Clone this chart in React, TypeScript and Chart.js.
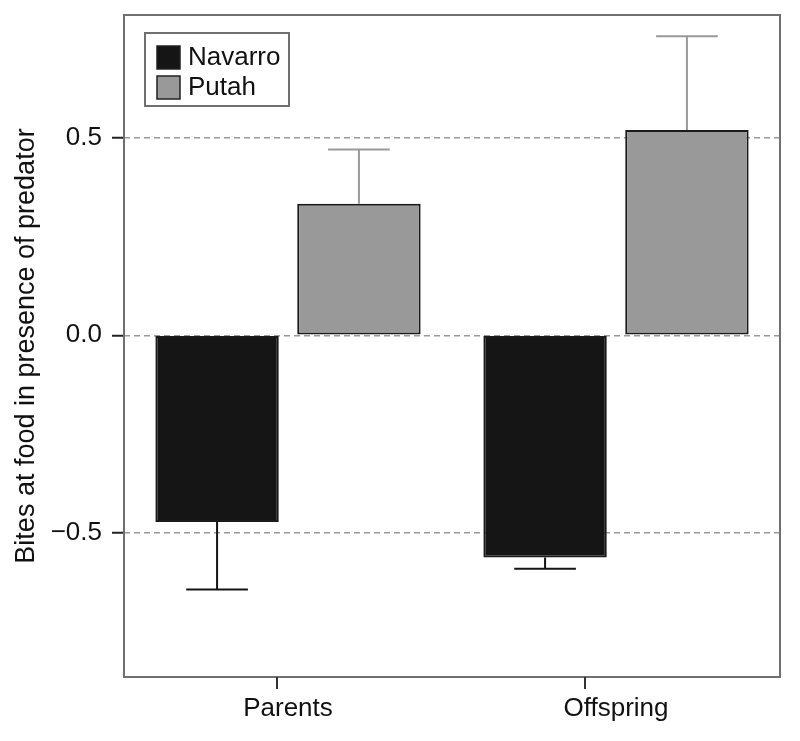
import React, { useEffect, useRef } from 'react';
import { Chart, registerables } from 'chart.js';

Chart.register(...registerables);

const categories = ['Parents', 'Offspring'];
const seriesNames = ['Navarro', 'Putah'];
const navarroMeans = [-0.472, -0.562];
const navarroErrors = [0.171, 0.028];
const putahMeans = [0.333, 0.519];
const putahErrors = [0.137, 0.237];
const seriesFill = ['#151515', '#999999'];
const whiskerColors = ['#151515', '#999999'];
const yTickValues = [-0.5, 0, 0.5];
const yMin = -0.864;
const yMax = 0.81;
// x-axis tick marks (category units), as drawn in the original figure
const xTickPositions = [-0.034, 0.905];
const yTitle = 'Bites at food in presence of predator';

const FONT = '"Liberation Sans", Arial, Helvetica, sans-serif';

const decorPlugin = {
  id: 'decor',
  afterDatasetsDraw(chart: any) {
    const ctx = chart.ctx;
    const area = chart.chartArea;
    const yScale = chart.scales.y;
    const xScale = chart.scales.x;
    const errs = [navarroErrors, putahErrors];
    ctx.save();
    // error bars
    chart.data.datasets.forEach((ds: any, i: number) => {
      const meta = chart.getDatasetMeta(i);
      meta.data.forEach((el: any, j: number) => {
        const v = ds.data[j];
        const e = errs[i][j];
        const end = v + Math.sign(v) * e;
        const yEnd = yScale.getPixelForValue(end);
        const half = el.width / 4;
        ctx.strokeStyle = whiskerColors[i];
        ctx.lineWidth = 2;
        ctx.beginPath();
        ctx.moveTo(el.x, el.y);
        ctx.lineTo(el.x, yEnd);
        ctx.moveTo(el.x - half, yEnd);
        ctx.lineTo(el.x + half, yEnd);
        ctx.stroke();
      });
    });
    // frame
    ctx.strokeStyle = '#707070';
    ctx.lineWidth = 2;
    ctx.strokeRect(area.left, area.top, area.right - area.left, area.bottom - area.top);
    // x ticks
    ctx.strokeStyle = '#333';
    ctx.lineWidth = 2;
    xTickPositions.forEach((p) => {
      const x = Math.round(xScale.getPixelForValue(p));
      ctx.beginPath();
      ctx.moveTo(x, area.bottom);
      ctx.lineTo(x, area.bottom + 12);
      ctx.stroke();
    });
    // legend
    const bx = area.left + 21;
    const by = area.top + 18;
    const bw = 144;
    const bh = 73;
    ctx.fillStyle = '#fff';
    ctx.fillRect(bx, by, bw, bh);
    ctx.strokeStyle = '#707070';
    ctx.lineWidth = 2;
    ctx.strokeRect(bx, by, bw, bh);
    ctx.font = '26px ' + FONT;
    ctx.textBaseline = 'middle';
    ctx.textAlign = 'left';
    seriesNames.forEach((name, i) => {
      const sy = by + 13 + i * 30;
      ctx.fillStyle = seriesFill[i];
      ctx.fillRect(bx + 12, sy, 23, 23);
      ctx.strokeStyle = '#222';
      ctx.lineWidth = 1.5;
      ctx.strokeRect(bx + 12, sy, 23, 23);
      ctx.fillStyle = '#111';
      ctx.fillText(name, bx + 43, sy + 12);
    });
    ctx.restore();
  },
};

export default function App() {
  const ref = useRef<HTMLCanvasElement>(null);
  useEffect(() => {
    if (!ref.current) return;
    const chart = new Chart(ref.current, {
      type: 'bar',
      data: {
        labels: categories,
        datasets: [
          {
            label: seriesNames[0],
            data: navarroMeans,
            backgroundColor: seriesFill[0],
            borderColor: '#1a1a1a',
            borderWidth: 2,
            borderSkipped: false,
            categoryPercentage: 0.865,
            barPercentage: 0.87,
          },
          {
            label: seriesNames[1],
            data: putahMeans,
            backgroundColor: seriesFill[1],
            borderColor: '#1a1a1a',
            borderWidth: 2,
            borderSkipped: false,
            categoryPercentage: 0.865,
            barPercentage: 0.87,
          },
        ],
      },
      options: {
        animation: false,
        responsive: true,
        maintainAspectRatio: false,
        layout: { padding: { left: 0, right: 12, top: 7, bottom: 0 } },
        plugins: {
          legend: { display: false },
          tooltip: { enabled: false },
          title: { display: false },
        },
        scales: {
          x: {
            grid: {
              display: true,
              drawOnChartArea: false,
              drawTicks: true,
              tickLength: 12,
              tickColor: 'rgba(0,0,0,0)',
            },
            border: { display: false },
            ticks: {
              color: '#111',
              font: { family: FONT, size: 26 },
              padding: 4,
            },
            afterFit: (s: any) => {
              s.height = 56;
              s.paddingLeft = 0;
              s.paddingRight = 0;
            },
          },
          y: {
            min: yMin,
            max: yMax,
            afterBuildTicks: (s: any) => {
              s.ticks = yTickValues.map((v) => ({ value: v }));
            },
            grid: {
              color: '#9a9a9a',
              lineWidth: 1.5,
              drawTicks: true,
              tickLength: 12,
              tickColor: '#222',
              tickWidth: 2,
              tickBorderDash: [],
            },
            border: { display: false, dash: [6, 4] },
            ticks: {
              color: '#111',
              font: { family: FONT, size: 26 },
              padding: 10,
              callback: (v: any) => {
                const n = Number(v);
                const s = Math.abs(n).toFixed(1);
                return n < 0 ? '\u2212' + s : s;
              },
            },
            title: {
              display: true,
              text: yTitle,
              color: '#111',
              font: { family: FONT, size: 27 },
              padding: { top: 2, bottom: 0 },
            },
            afterFit: (s: any) => {
              s.width = 116;
              s.paddingTop = 0;
              s.paddingBottom = 0;
            },
          },
        },
      },
      plugins: [decorPlugin],
    });
    return () => chart.destroy();
  }, []);
  return (
    <div style={{ width: 784, height: 725, position: 'relative' }}>
      <canvas ref={ref} />
    </div>
  );
}
